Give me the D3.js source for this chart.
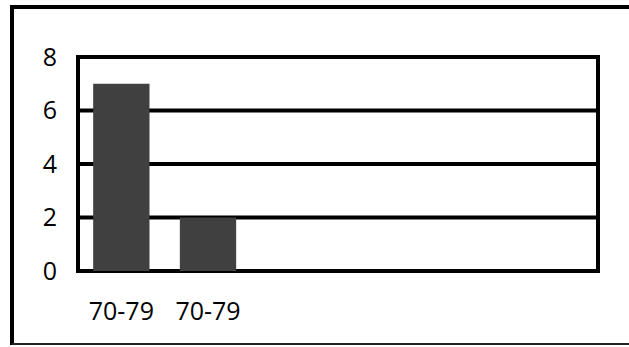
<!DOCTYPE html>
<html>
<head>
<meta charset="utf-8">
<script src="https://cdn.jsdelivr.net/npm/d3@7"></script>
<style>
	html, body { margin: 0; padding: 0; background: #fff; }
	svg { display: block; }
	.tick-label { font-family: 'Open Sans', 'Noto Sans', sans-serif; font-size: 25px; fill: #000; }
</style>
</head>
<body>
<svg id="chart"></svg>
<script>
// Chart data
const categories = [ '70-79', '70-79', '', '', '', '' ];
const values = [ 7, 2, null, null, null, null ];
const yTicks = [ 0, 2, 4, 6, 8 ];

function generateBarChart( selector ) {
	const width = 629;
	const height = 347;
	const plot = { left: 78, right: 598, top: 57, bottom: 271 };

	const svg = d3.select( selector )
		.attr( 'width', width )
		.attr( 'height', height );

	// Outer frame (left, top and bottom edges only, the right runs off the page)
	svg.append( 'line' )
		.attr( 'x1', 12 ).attr( 'x2', 12 )
		.attr( 'y1', 5 ).attr( 'y2', 345 )
		.attr( 'stroke', '#000' )
		.attr( 'stroke-width', 4 );
	svg.append( 'line' )
		.attr( 'x1', 10 ).attr( 'x2', width )
		.attr( 'y1', 7 ).attr( 'y2', 7 )
		.attr( 'stroke', '#000' )
		.attr( 'stroke-width', 4 );
	svg.append( 'line' )
		.attr( 'x1', 12 ).attr( 'x2', width )
		.attr( 'y1', 344 ).attr( 'y2', 344 )
		.attr( 'stroke', '#222' )
		.attr( 'stroke-width', 2 );

	// Scales
	const xScale = d3.scaleBand()
		.domain( d3.range( categories.length ) )
		.range( [ plot.left, plot.right ] )
		.paddingInner( 0.35 )
		.paddingOuter( 0.175 );

	const yScale = d3.scaleLinear()
		.domain( [ 0, 8 ] )
		.range( [ plot.bottom, plot.top ] );

	// Gridlines
	svg.append( 'g' )
		.selectAll( 'line' )
		.data( yTicks )
		.enter()
		.append( 'line' )
		.attr( 'x1', plot.left )
		.attr( 'x2', plot.right )
		.attr( 'y1', ( d ) => yScale( d ) )
		.attr( 'y2', ( d ) => yScale( d ) )
		.attr( 'stroke', '#000' )
		.attr( 'stroke-width', 4 );

	// Bars
	svg.append( 'g' )
		.selectAll( 'rect' )
		.data( values.map( ( v, i ) => ( { v, i } ) ).filter( ( d ) => d.v !== null ) )
		.enter()
		.append( 'rect' )
		.attr( 'x', ( d ) => xScale( d.i ) )
		.attr( 'y', ( d ) => yScale( d.v ) )
		.attr( 'width', xScale.bandwidth() )
		.attr( 'height', ( d ) => yScale( 0 ) - yScale( d.v ) )
		.attr( 'fill', '#404040' );

	// Plot frame (left and right edges)
	[ plot.left, plot.right ].forEach( ( x ) => {
		svg.append( 'line' )
			.attr( 'x1', x ).attr( 'x2', x )
			.attr( 'y1', plot.top - 2 ).attr( 'y2', plot.bottom + 2 )
			.attr( 'stroke', '#000' )
			.attr( 'stroke-width', 4 );
	} );

	// Y axis
	const yAxis = d3.axisLeft( yScale )
		.tickValues( yTicks )
		.tickSize( 0 )
		.tickPadding( 21 );

	svg.append( 'g' )
		.attr( 'transform', `translate(${ plot.left },0)` )
		.call( yAxis )
		.call( ( g ) => g.select( '.domain' ).remove() )
		.selectAll( 'text' )
		.attr( 'class', 'tick-label' )
		.attr( 'font-family', null )
		.attr( 'font-size', null );

	// X axis
	const xAxis = d3.axisBottom( xScale )
		.tickFormat( ( i ) => categories[ i ] )
		.tickSize( 0 )
		.tickPadding( 31 );

	svg.append( 'g' )
		.attr( 'transform', `translate(0,${ plot.bottom })` )
		.call( xAxis )
		.call( ( g ) => g.select( '.domain' ).remove() )
		.selectAll( 'text' )
		.attr( 'class', 'tick-label' )
		.attr( 'font-family', null )
		.attr( 'font-size', null );
}

generateBarChart( '#chart' );
</script>
</body>
</html>
